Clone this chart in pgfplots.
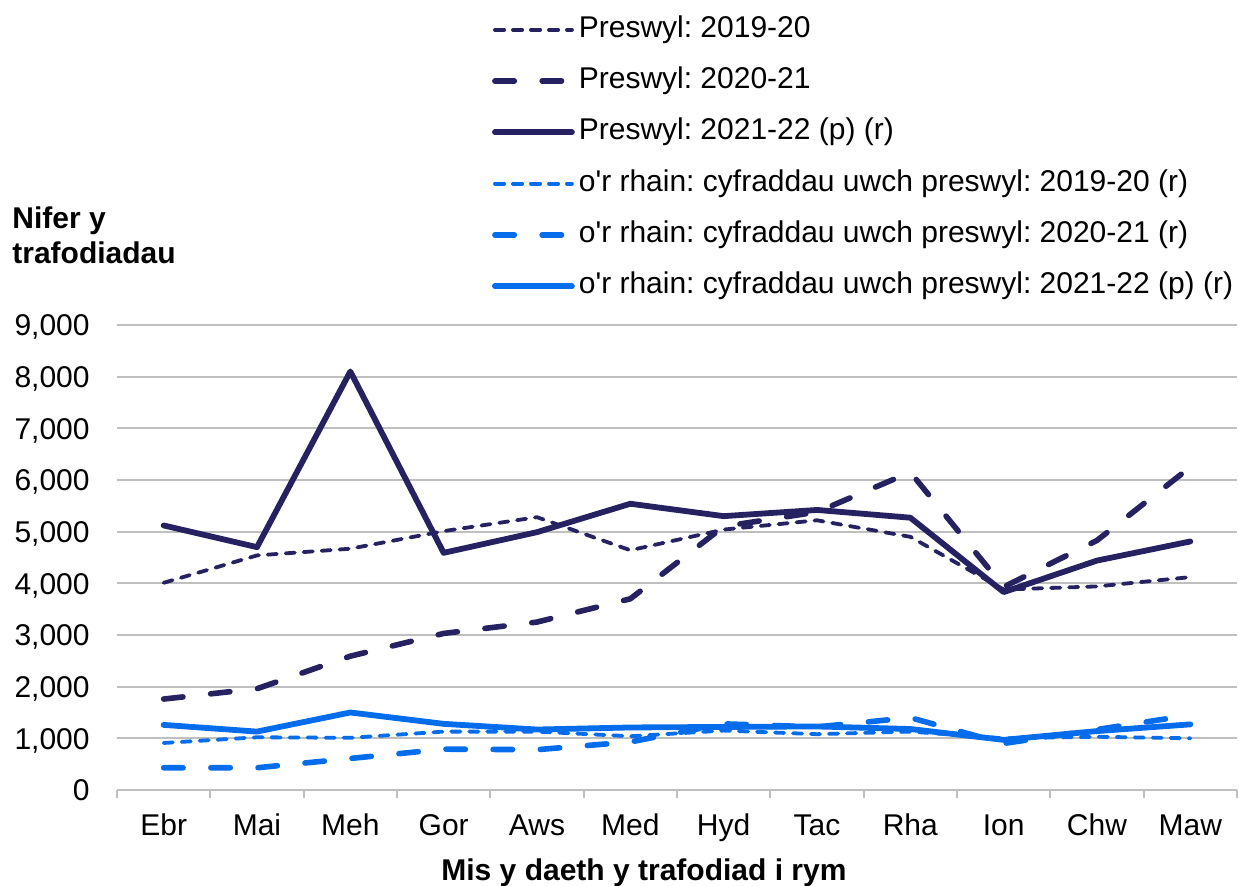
\documentclass[border=0pt]{standalone}
\usepackage{pgfplots}
\pgfplotsset{compat=1.18}
\usepackage{fontspec}
\setmainfont{Liberation Sans}
\definecolor{dark}{RGB}{38,34,98}
\definecolor{lblue}{RGB}{5,108,235}
\definecolor{gridc}{RGB}{191,191,191}
\begin{document}
\frenchspacing
\fontsize{15pt}{18pt}\selectfont
\begin{tikzpicture}
\useasboundingbox (0pt,0pt) rectangle (619.5pt,443pt);
\begin{axis}[
  at={(58.5pt,48pt)}, anchor=south west,
  scale only axis, width=560pt, height=232.5pt,
  xmin=-0.5, xmax=11.5, ymin=0, ymax=9000,
  xtick={0,...,11},
  xticklabels={Ebr,Mai,Meh,Gor,Aws,Med,Hyd,Tac,Rha,Ion,Chw,Maw},
  minor xtick={-0.5,0.5,...,11.5},
  ytick={0,1000,...,9000},
  /pgf/number format/assume math mode=true,
  /pgf/number format/1000 sep={,},
  scaled y ticks=false,
  ymajorgrids, grid style={gridc, line width=1pt},
  axis x line*=bottom, axis y line*=left,
  axis line style={draw=none},
  tick align=outside,
  major tick length=0pt, minor tick length=4pt,
  minor tick style={gridc, line width=1pt},
  xtick pos=bottom, ytick pos=left,
  yticklabel style={anchor=base east, inner sep=0pt, xshift=-13.5pt, yshift=-5.4pt},
  xticklabel style={anchor=base, inner sep=0pt, yshift=-23pt},
  xlabel={\bfseries Mis y daeth y trafodiad i rym},
  x label style={at={(axis description cs:0.4705,-0.1957)}, anchor=base, inner sep=0pt},
  legend cell align=left,
  legend image code/.code={\draw[#1] (0pt,0pt) -- (38.5pt,0pt);},
  legend style={at={(axis description cs:0.3345,1.667)}, anchor=north west,
    draw=none, fill=none, inner sep=0pt, row sep=11.15pt,
    nodes={inner sep=0pt, text height=11pt, text depth=3.5pt},
    /tikz/every odd column/.append style={column sep=2pt}},
  every axis plot/.append style={line join=round},
]
\addplot[dark, line width=1.9pt, line cap=round, dash pattern=on 4.6pt off 4.4pt] coordinates {
(0,4010) (1,4540) (2,4670) (3,5010) (4,5280) (5,4640) (6,5040) (7,5220) (8,4900) (9,3880) (10,3940) (11,4120)};
\addlegendentry{Preswyl: 2019-20}
\addplot[dark, line width=2.8pt, line cap=round, dash pattern=on 9.7pt off 13.9pt] coordinates {
(0,1760) (1,1960) (2,2590) (3,3030) (4,3250) (5,3700) (6,5100) (7,5380) (8,6150) (9,3930) (10,4830) (11,6250)};
\addlegendentry{Preswyl: 2020-21}
\addplot[dark, line width=2.9pt, line cap=round] coordinates {
(0,5120) (1,4700) (2,8100) (3,4590) (4,4990) (5,5540) (6,5300) (7,5420) (8,5270) (9,3830) (10,4440) (11,4810)};
\addlegendentry{Preswyl: 2021-22 (p) (r)}
\addplot[lblue, line width=1.9pt, line cap=round, dash pattern=on 4.6pt off 4.4pt] coordinates {
(0,910) (1,1020) (2,1010) (3,1130) (4,1130) (5,1040) (6,1150) (7,1080) (8,1130) (9,1000) (10,1030) (11,1000)};
\addlegendentry{o\textquotesingle r rhain: cyfraddau uwch preswyl: 2019-20 (r)}
\addplot[lblue, line width=2.8pt, line cap=round, dash pattern=on 9.7pt off 13.9pt] coordinates {
(0,430) (1,430) (2,610) (3,790) (4,780) (5,930) (6,1280) (7,1220) (8,1400) (9,900) (10,1170) (11,1450)};
\addlegendentry{o\textquotesingle r rhain: cyfraddau uwch preswyl: 2020-21 (r)}
\addplot[lblue, line width=2.9pt, line cap=round] coordinates {
(0,1260) (1,1130) (2,1500) (3,1280) (4,1170) (5,1210) (6,1220) (7,1230) (8,1180) (9,970) (10,1140) (11,1270)};
\addlegendentry{o\textquotesingle r rhain: cyfraddau uwch preswyl: 2021-22 (p) (r)}
\end{axis}
\node[anchor=base west, inner sep=0pt, align=left, font=\bfseries] at (6pt,328.5pt) {Nifer y};
\node[anchor=base west, inner sep=0pt, align=left, font=\bfseries] at (6pt,311pt) {trafodiadau};
\end{tikzpicture}
\end{document}
